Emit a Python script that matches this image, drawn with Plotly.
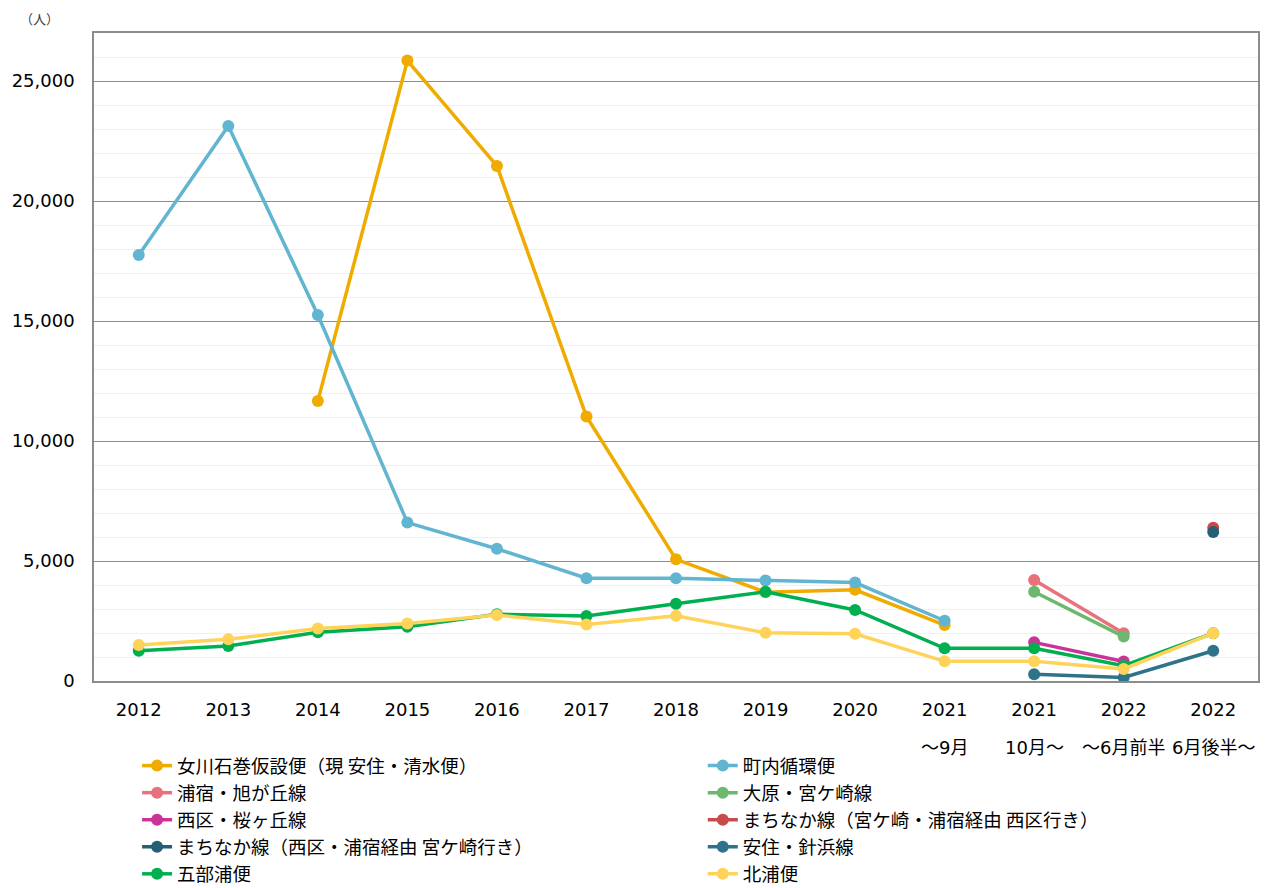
import plotly.graph_objects as go

# x categories (year + sub-period)
categories = ["2012", "2013", "2014", "2015", "2016", "2017", "2018", "2019", "2020",
              "2021", "2021", "2022", "2022"]
sub_labels = ["", "", "", "", "", "", "", "", "", "～9月", "10月～", "～6月前半", "6月後半～"]

onagawa = [None, None, 11670, 25850, 21460, 11020, 5070, 3700, 3800, 2330, None, None, None]
chonai = [17750, 23130, 15250, 6600, 5510, 4280, 4280, 4190, 4100, 2510, None, None, None]
urashuku = [None, None, None, None, None, None, None, None, None, None, 4210, 1990, None]
ohara = [None, None, None, None, None, None, None, None, None, None, 3720, 1850, None]
nishiku = [None, None, None, None, None, None, None, None, None, None, 1610, 810, None]
machi_a = [None, None, None, None, None, None, None, None, None, None, None, None, 6390]
machi_b = [None, None, None, None, None, None, None, None, None, None, None, None, 6210]
azumi = [None, None, None, None, None, None, None, None, None, None, 280, 150, 1260]
gobu = [1260, 1460, 2030, 2260, 2780, 2710, 3220, 3720, 2960, 1360, 1360, 640, 1990]
kitaura = [1500, 1740, 2190, 2400, 2750, 2350, 2720, 2010, 1970, 820, 820, 500, 1990]

series = [
    ("女川石巻仮設便（現 安住・清水便）", onagawa, "#F0AB00", "legend"),
    ("町内循環便", chonai, "#62B5D0", "legend2"),
    ("浦宿・旭が丘線", urashuku, "#E8717D", "legend"),
    ("大原・宮ケ崎線", ohara, "#6DB86E", "legend2"),
    ("西区・桜ヶ丘線", nishiku, "#CC3399", "legend"),
    ("まちなか線（宮ケ崎・浦宿経由 西区行き）", machi_a, "#C84B4B", "legend2"),
    ("まちなか線（西区・浦宿経由 宮ケ崎行き）", machi_b, "#245F75", "legend"),
    ("安住・針浜線", azumi, "#2E7389", "legend2"),
    ("五部浦便", gobu, "#00B050", "legend"),
    ("北浦便", kitaura, "#FFD35A", "legend2"),
]

xpos = list(range(len(categories)))

fig = go.Figure()
for i, (name, vals, color, leg) in enumerate(series):
    fig.add_trace(go.Scatter(
        x=xpos, y=vals, name=name, mode="lines+markers",
        line=dict(color=color, width=3.5),
        marker=dict(color=color, size=12),
        connectgaps=False,
        legend=leg, legendgroup=f"g{i}",
    ))

tick_font = dict(family="DejaVu Sans, Noto Sans CJK JP", size=18, color="#000000")

# second line of x labels
for i, s in enumerate(sub_labels):
    if s:
        fig.add_annotation(x=xpos[i], y=-0.083, xref="x", yref="paper", text=s,
                           showarrow=False, yanchor="top", font=tick_font)

fig.add_annotation(x=-0.047, y=1.004, xref="paper", yref="paper", text="（人）",
                   showarrow=False, xanchor="center", yanchor="bottom",
                   font=dict(family="Noto Sans CJK JP", size=13, color="#404040"))

leg_common = dict(
    orientation="v", yanchor="top", xanchor="left", y=-0.102,
    font=dict(family="Noto Sans CJK JP", size=18.5, color="#000000"),
    tracegroupgap=0, bgcolor="rgba(0,0,0,0)", itemwidth=30, maxheight=400,
)

fig.update_layout(
    width=1266, height=888,
    margin=dict(l=94, r=8, t=33, b=207, autoexpand=False),
    plot_bgcolor="white", paper_bgcolor="white",
    legend=dict(x=0.037, **leg_common),
    legend2=dict(x=0.523, **leg_common),
    xaxis=dict(
        range=[-0.5, 12.5], tickmode="array", tickvals=xpos, ticktext=categories,
        showgrid=False, showline=True, linecolor="#8C8C8C", linewidth=1.5, mirror=True,
        ticks="", tickfont=tick_font, ticklabelstandoff=12, zeroline=False,
        automargin=False,
    ),
    yaxis=dict(
        range=[0, 27000], tickvals=[0, 5000, 10000, 15000, 20000, 25000],
        tickformat=",", showgrid=True, gridcolor="#8C8C8C", gridwidth=1,
        minor=dict(dtick=1000, showgrid=True, gridcolor="#F0F0F0", gridwidth=1),
        showline=True, linecolor="#8C8C8C", linewidth=1.5, mirror=True,
        ticks="", tickfont=tick_font, ticklabelstandoff=14, zeroline=False,
        automargin=False,
    ),
)

# drop the default page margin so the figure sits at the window's corner
fig.write_html("out.html", config={"displayModeBar": False},
               post_script="document.body.style.margin = '0';")
